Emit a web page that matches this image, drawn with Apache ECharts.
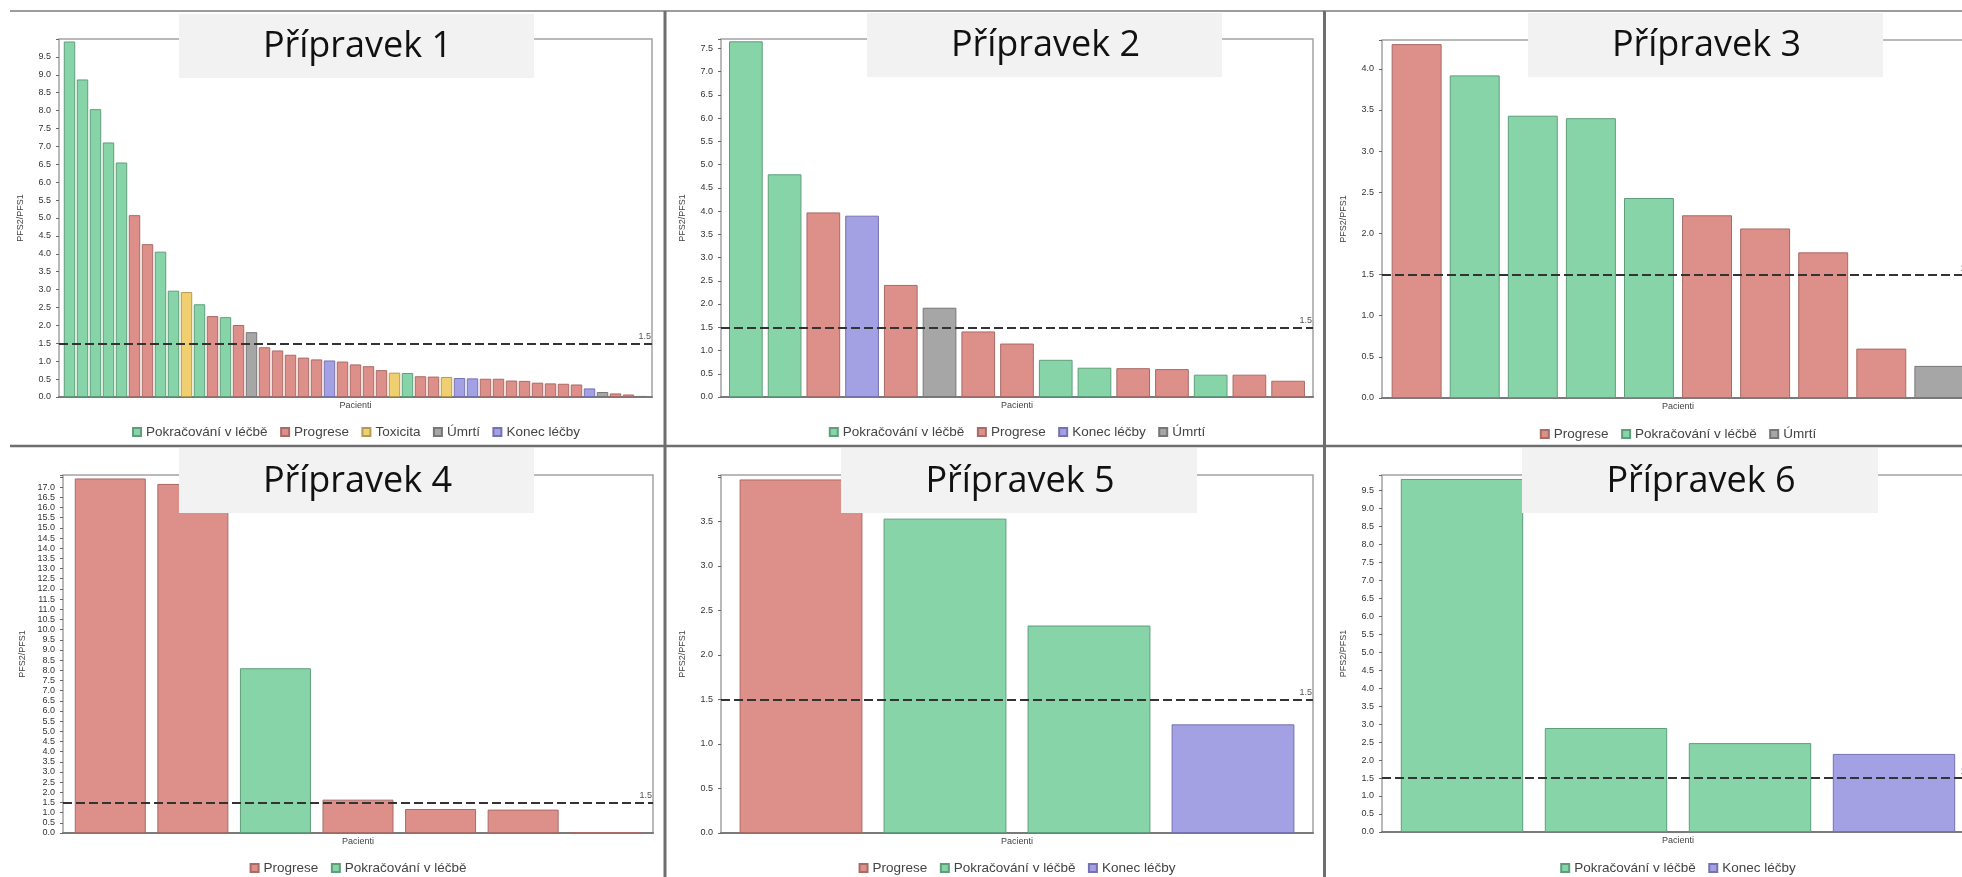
<!DOCTYPE html>
<html>
<head>
<meta charset="utf-8">
<script src="https://cdn.jsdelivr.net/npm/echarts@6/dist/echarts.min.js"></script>
<style>
  html, body { margin: 0; padding: 0; width: 1962px; height: 877px; overflow: hidden; background: #fff; }
  .panel { position: absolute; }
  #overlay { position: absolute; left: 0; top: 0; width: 1962px; height: 877px; z-index: 10; pointer-events: none; }
</style>
</head>
<body>
<div id="p1" class="panel"></div>
<div id="p2" class="panel"></div>
<div id="p3" class="panel"></div>
<div id="p4" class="panel"></div>
<div id="p5" class="panel"></div>
<div id="p6" class="panel"></div>
<div id="overlay"></div>
<script>
// ---- data: PFS2/PFS1 ratio per patient, sorted, with end-of-treatment status ----
const panelTitles = ['Přípravek 1', 'Přípravek 2', 'Přípravek 3', 'Přípravek 4', 'Přípravek 5', 'Přípravek 6'];

// status codes: P = continuing, R = progression, T = toxicity, U = death, K = end of treatment
const statusNames = { P: 'Pokračování v léčbě', R: 'Progrese', T: 'Toxicita', U: 'Úmrtí', K: 'Konec léčby' };

const p1Values = [9.93, 8.87, 8.04, 7.11, 6.55, 5.08, 4.27, 4.06, 2.97, 2.93,
                  2.59, 2.26, 2.23, 2.01, 1.81, 1.39, 1.30, 1.18, 1.10, 1.05,
                  1.02, 0.99, 0.91, 0.86, 0.75, 0.68, 0.67, 0.58, 0.57, 0.56,
                  0.53, 0.52, 0.51, 0.51, 0.46, 0.45, 0.40, 0.38, 0.37, 0.35,
                  0.24, 0.14, 0.10, 0.07, 0.03];
const p1Status = ['P', 'P', 'P', 'P', 'P', 'R', 'R', 'P', 'P', 'T',
                  'P', 'R', 'P', 'R', 'U', 'R', 'R', 'R', 'R', 'R',
                  'K', 'R', 'R', 'R', 'R', 'T', 'P', 'R', 'R', 'T',
                  'K', 'K', 'R', 'R', 'R', 'R', 'R', 'R', 'R', 'R',
                  'K', 'U', 'R', 'R', 'U'];
const p1Legend = ['P', 'R', 'T', 'U', 'K'];

const p2Values = [7.65, 4.79, 3.97, 3.90, 2.41, 1.92, 1.41, 1.15, 0.80, 0.63, 0.62, 0.60, 0.48, 0.48, 0.35];
const p2Status = ['P', 'P', 'R', 'K', 'R', 'U', 'R', 'R', 'P', 'P', 'R', 'R', 'P', 'R', 'R'];
const p2Legend = ['P', 'R', 'K', 'U'];

const p3Values = [4.30, 3.92, 3.43, 3.40, 2.43, 2.22, 2.06, 1.77, 0.60, 0.39];
const p3Status = ['R', 'P', 'P', 'P', 'P', 'R', 'R', 'R', 'R', 'U'];
const p3Legend = ['R', 'P', 'U'];

const p4Values = [17.43, 17.16, 8.10, 1.64, 1.18, 1.15, 0.05];
const p4Status = ['R', 'R', 'P', 'R', 'R', 'R', 'R'];
const p4Legend = ['R', 'P'];

const p5Values = [3.97, 3.53, 2.33, 1.22];
const p5Status = ['R', 'P', 'P', 'K'];
const p5Legend = ['R', 'P', 'K'];

const p6Values = [9.81, 2.89, 2.47, 2.17];
const p6Status = ['P', 'P', 'P', 'K'];
const p6Legend = ['P', 'K'];

const yMaxes = [10.0, 7.7, 4.35, 17.6, 4.02, 9.92];
const thresholdValue = 1.5;

// ---- styling ----
const statusStyle = {
  P: { color: '#87D4A8', border: '#5F9E7B' },
  R: { color: '#DD8F89', border: '#A96B66' },
  T: { color: '#F0CF70', border: '#B39A55' },
  U: { color: '#A6A6A6', border: '#777777' },
  K: { color: '#A3A0E3', border: '#7572B2' }
};
const FONT = '"Liberation Sans", Arial, sans-serif';

// plot frames in page pixels [left, top, right, bottom], legend centre line, row
const layouts = [
  { frame: [59, 39, 652, 397],   legendY: 428, row: 0, inset: 4,   gap: 0.12 },
  { frame: [721, 39, 1313, 397], legendY: 428, row: 0, inset: 5.5, gap: 0.13 },
  { frame: [1382, 40, 1974, 398], legendY: 430, row: 0, inset: 5.6, gap: 0.14 },
  { frame: [63, 475, 653, 833],  legendY: 864, row: 1, inset: 6,   gap: 0.14 },
  { frame: [721, 475, 1313, 833], legendY: 864, row: 1, inset: 8,   gap: 0.147 },
  { frame: [1382, 475, 1974, 832], legendY: 864, row: 1, inset: 8,   gap: 0.15 }
];
const titleBoxes = [
  [179, 14, 534, 78], [867, 13, 1222, 77], [1528, 13, 1883, 77],
  [179, 448, 534, 513], [841, 448, 1197, 513], [1522, 448, 1878, 513]
];

const panels = [
  { values: p1Values, status: p1Status, legend: p1Legend },
  { values: p2Values, status: p2Status, legend: p2Legend },
  { values: p3Values, status: p3Status, legend: p3Legend },
  { values: p4Values, status: p4Status, legend: p4Legend },
  { values: p5Values, status: p5Status, legend: p5Legend },
  { values: p6Values, status: p6Status, legend: p6Legend }
];

const DIV_W = 720;

panels.forEach(function (panel, idx) {
  const lay = layouts[idx];
  const [fl, ft, fr, fb] = lay.frame;
  const cx = (fl + fr) / 2;
  const divLeft = Math.round(cx - DIV_W / 2);
  const divTop = lay.row === 0 ? 0 : 445;
  const divH = lay.row === 0 ? 445 : 432;
  const el = document.getElementById('p' + (idx + 1));
  el.style.left = divLeft + 'px';
  el.style.top = divTop + 'px';
  el.style.width = DIV_W + 'px';
  el.style.height = divH + 'px';

  const n = panel.values.length;
  const W = fr - fl;
  const pitch = (W - 2 * lay.inset) / n;
  const padCat = lay.inset / pitch;
  const barWidth = pitch * (1 - lay.gap);
  const yMax = yMaxes[idx];

  const series = panel.legend.map(function (code, si) {
    const data = [];
    panel.values.forEach(function (v, i) {
      if (panel.status[i] === code) data.push([i, v]);
    });
    const s = {
      type: 'bar',
      name: statusNames[code],
      data: data,
      barWidth: barWidth,
      barGap: '-100%',
      itemStyle: { color: statusStyle[code].color, borderColor: statusStyle[code].border, borderWidth: 1 },
      emphasis: { disabled: true },
      animation: false
    };
    if (si === 0) {
      s.markLine = {
        silent: true,
        animation: false,
        symbol: ['none', 'none'],
        data: [{ yAxis: thresholdValue }],
        lineStyle: { color: '#333', width: 2.2, type: [9, 4] },
        label: {
          show: true, position: 'insideEndTop', distance: [1, 2],
          formatter: String(thresholdValue), fontSize: 9, color: '#555', fontFamily: FONT
        }
      };
    }
    return s;
  });

  const chart = echarts.init(el, null, { renderer: 'canvas' });
  chart.setOption({
    animation: false,
    backgroundColor: 'transparent',
    grid: {
      left: fl - divLeft, top: ft - divTop, width: W, height: fb - ft,
      show: true, borderColor: '#a3a3a3', borderWidth: 1.5, backgroundColor: 'transparent',
      containLabel: false, outerBoundsMode: 'none'
    },
    legend: {
      left: 'center',
      top: lay.legendY - divTop - 8,
      icon: 'rect', itemWidth: 8, itemHeight: 8, itemGap: 12.5,
      textStyle: { fontSize: 13.5, color: '#444', fontFamily: FONT },
      data: panel.legend.map(function (c) { return statusNames[c]; }),
      selectedMode: false
    },
    xAxis: {
      type: 'value',
      min: -0.5 - padCat,
      max: n - 0.5 + padCat,
      axisLine: { show: true, onZero: false, lineStyle: { color: '#7a7a7a', width: 2 } },
      axisTick: { show: false },
      axisLabel: { show: false },
      splitLine: { show: false },
      name: 'Pacienti', nameLocation: 'middle', nameGap: 4,
      nameTextStyle: { fontSize: 9, color: '#444', fontFamily: FONT, verticalAlign: 'top' }
    },
    yAxis: {
      type: 'value', min: 0, max: yMax, interval: 0.5,
      axisLine: { show: false, onZero: false },
      axisTick: { show: true, length: 3, lineStyle: { color: '#666' } },
      axisLabel: {
        fontSize: 9, color: '#333', margin: 8, fontFamily: FONT, hideOverlap: false,
        formatter: function (v) {
          const k = v / 0.5;
          if (Math.abs(k - Math.round(k)) > 1e-6 || v > yMax - 0.15) return '';
          return v.toFixed(1);
        }
      },
      splitLine: { show: false },
      name: 'PFS2/PFS1', nameLocation: 'middle', nameGap: 34,
      nameTextStyle: { fontSize: 9, color: '#444', fontFamily: FONT }
    },
    series: series
  });
});

// ---- page frame: separator lines and panel title boxes ----
const overlay = echarts.init(document.getElementById('overlay'), null, { renderer: 'canvas' });
const elements = [
  { type: 'line', shape: { x1: 10, y1: 11, x2: 1962, y2: 11 }, style: { stroke: '#9c9c9c', lineWidth: 2 } },
  { type: 'line', shape: { x1: 10, y1: 446, x2: 1962, y2: 446 }, style: { stroke: '#6e6e6e', lineWidth: 2.5 } },
  { type: 'line', shape: { x1: 665, y1: 11, x2: 665, y2: 877 }, style: { stroke: '#6e6e6e', lineWidth: 3 } },
  { type: 'line', shape: { x1: 1324.5, y1: 11, x2: 1324.5, y2: 877 }, style: { stroke: '#6e6e6e', lineWidth: 3 } }
];
titleBoxes.forEach(function (b, i) {
  elements.push({
    type: 'rect', z: 100,
    shape: { x: b[0], y: b[1], width: b[2] - b[0], height: b[3] - b[1] },
    style: { fill: '#f2f2f2' }
  });
  elements.push({
    type: 'text', z: 101,
    style: {
      x: (b[0] + b[2]) / 2 + 1, y: (b[1] + b[3]) / 2 + 1,
      text: panelTitles[i], align: 'center', verticalAlign: 'middle',
      font: '36px "Open Sans"', fill: '#111'
    }
  });
});
overlay.setOption({ animation: false, backgroundColor: 'transparent', graphic: { elements: elements } });
</script>
</body>
</html>
